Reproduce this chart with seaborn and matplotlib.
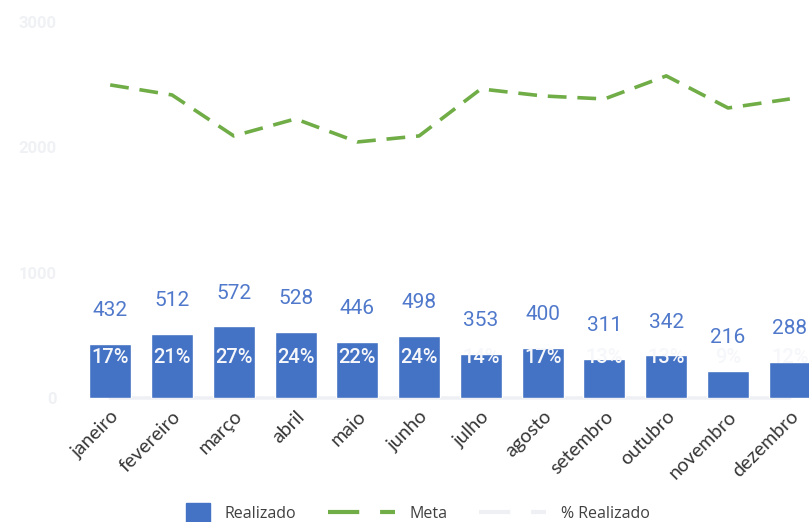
import matplotlib
matplotlib.use("Agg")
import matplotlib.pyplot as plt
from matplotlib.lines import Line2D
from matplotlib.patches import Patch, Rectangle
from matplotlib.legend_handler import HandlerPatch
import seaborn as sns
import pandas as pd

meses = ["janeiro", "fevereiro", "março", "abril", "maio", "junho",
         "julho", "agosto", "setembro", "outubro", "novembro", "dezembro"]
realizado = [432, 512, 572, 528, 446, 498, 353, 400, 311, 342, 216, 288]
meta = [2498, 2418, 2091, 2227, 2043, 2091, 2466, 2410, 2386, 2570, 2314, 2386]
pct_realizado = [0.17, 0.21, 0.27, 0.24, 0.22, 0.24, 0.14, 0.17, 0.13, 0.13, 0.09, 0.12]
y_ticks = [0, 1000, 2000, 3000]

AZUL = "#4472c4"
VERDE = "#70ad47"
CLARO = "#eef0f4"

df = pd.DataFrame({"mes": meses, "Realizado": realizado, "Meta": meta,
                   "pct": pct_realizado})

sns.set_theme(style="white")
plt.rcParams["font.family"] = ["Roboto", "DejaVu Sans"]

W, H = 809, 522
fig = plt.figure(figsize=(W / 100, H / 100), dpi=100)
ax = fig.add_axes([62 / W, (H - 398) / H, (W - 62) / W, (398 - 22) / H])

# % Realizado series: pale line along the baseline
ax.plot(range(len(meses)), df["pct"], color=CLARO, lw=2.5,
        zorder=1, clip_on=False)

# Realizado bars
sns.barplot(data=df, x="mes", y="Realizado", color=AZUL, saturation=1,
            width=0.68, ax=ax, zorder=2)
container = ax.containers[0]
ax.bar_label(container, labels=[f"{v}" for v in realizado], padding=17,
             fontsize=15, color="#5079cb", fontfamily="Roboto")

# Meta dashed line
sns.lineplot(data=df, x="mes", y="Meta", sort=False, color=VERDE, lw=2.6,
             dashes=False, ax=ax, zorder=3)
ax.lines[-1].set_dashes((5.2, 3.0))

# percentage labels above the % Realizado points
for i, p in enumerate(pct_realizado):
    ax.annotate(f"{round(p * 100):.0f}%", (i, p), xytext=(0, 29),
                textcoords="offset points", ha="center", va="center",
                fontsize=14.5, fontweight="medium", color="#f6f7fa",
                fontfamily="Roboto", zorder=4)

ax.set_xlim(-0.78, 11.31)
ax.set_ylim(0, 3000)
ax.set_yticks(y_ticks)
ax.set_yticklabels([str(t) for t in y_ticks], fontsize=12, color="#eff1f4",
                   fontweight="bold")
ax.tick_params(axis="y", length=0, pad=4)
ax.tick_params(axis="x", length=0, pad=7)
ax.set_xlabel("")
ax.set_ylabel("")
for lbl in ax.get_xticklabels():
    lbl.set_rotation(45)
    lbl.set_ha("right")
    lbl.set_rotation_mode("anchor")
    lbl.set_fontsize(14)
    lbl.set_fontfamily(["Lato", "DejaVu Sans"])
    lbl.set_color("#363636")
for s in ax.spines.values():
    s.set_visible(False)
ax.grid(False)


def square_at_right(legend, orig_handle, xdescent, ydescent, width, height, fontsize):
    sw, sh = 17, 14
    return Rectangle((-xdescent + width - sw, -ydescent + (height - sh) / 2), sw, sh)


handles = [
    Patch(facecolor=AZUL, edgecolor=AZUL),
    Line2D([], [], color=VERDE, lw=3, dashes=(7.5, 5)),
    Line2D([], [], color=CLARO, lw=3, dashes=(7.5, 5)),
]
fig.legend(handles, ["Realizado", "Meta", "% Realizado"], loc="center",
           bbox_to_anchor=(396 / W, 8 / H), ncol=3, frameon=False,
           handlelength=4.2, handletextpad=0.9, columnspacing=2.0,
           labelcolor="#404040", prop={"family": "Open Sans", "size": 11.5},
           handler_map={Patch: HandlerPatch(patch_func=square_at_right)})

fig.savefig("out.png", dpi=100)
